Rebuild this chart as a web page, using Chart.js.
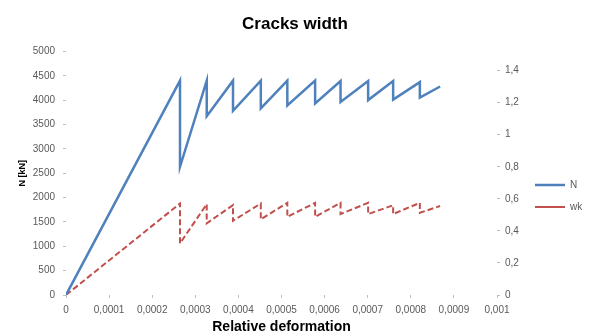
<!DOCTYPE html>
<html>
<head>
<meta charset="utf-8">
<script src="https://cdn.jsdelivr.net/npm/chart.js@4.4.1/dist/chart.umd.min.js"></script>
<style>
  html, body { margin: 0; padding: 0; background: #ffffff; }
  #wrap { width: 590px; height: 336px; }
</style>
</head>
<body>
<div id="wrap"><canvas id="c" width="590" height="336"></canvas></div>
<script>
// Relative deformation (x) at the sampled points
const strain = [0, 0.0002645, 0.0002645, 0.0003265, 0.0003265, 0.0003875, 0.0003875,
  0.000452, 0.000452, 0.0005135, 0.0005135, 0.000578, 0.000578, 0.000637, 0.000637,
  0.000701, 0.000701, 0.000759, 0.000759, 0.000821, 0.000821, 0.000868];
// N [kN] (left axis)
const forceN = [0, 4400, 2630, 4400, 3670, 4400, 3780, 4400, 3830, 4400, 3890, 4400,
  3930, 4390, 3960, 4390, 4000, 4390, 4010, 4370, 4050, 4280];
// wk (right axis)
const crackWk = [0, 0.571, 0.322, 0.567, 0.447, 0.561, 0.463, 0.571, 0.472, 0.575, 0.488,
  0.575, 0.488, 0.575, 0.505, 0.575, 0.505, 0.56, 0.505, 0.575, 0.513, 0.555];

const seriesNames = ['N', 'wk'];
const leftTicks = [0, 500, 1000, 1500, 2000, 2500, 3000, 3500, 4000, 4500, 5000];
const rightTicks = [0, 0.2, 0.4, 0.6, 0.8, 1, 1.2, 1.4];
const xTicks = [0, 0.0001, 0.0002, 0.0003, 0.0004, 0.0005, 0.0006, 0.0007, 0.0008, 0.0009, 0.001];

const fmt = v => String(Number(v.toFixed(6))).replace('.', ',');
const tickColor = '#595959';
const markColor = '#bfbfbf';
const FONT = "'Liberation Sans', Arial, sans-serif";

new Chart(document.getElementById('c'), {
  type: 'line',
  data: {
    datasets: [
      {
        label: seriesNames[0],
        data: strain.map((x, i) => ({ x: x, y: forceN[i] })),
        yAxisID: 'y',
        borderColor: '#4F81BD',
        backgroundColor: '#4F81BD',
        borderWidth: 2.5,
        pointRadius: 0,
        tension: 0,
        fill: false
      },
      {
        label: seriesNames[1],
        data: strain.map((x, i) => ({ x: x, y: crackWk[i] })),
        yAxisID: 'y2',
        borderColor: '#C0504D',
        backgroundColor: '#C0504D',
        borderWidth: 2,
        borderDash: [6, 3],
        pointRadius: 0,
        tension: 0,
        fill: false
      }
    ]
  },
  options: {
    responsive: false,
    animation: false,
    layout: { padding: { top: 0, bottom: 0, left: 0, right: 0 } },
    plugins: {
      title: {
        display: true,
        text: 'Cracks width',
        color: '#000000',
        font: { family: FONT, size: 17, weight: 'bold' },
        padding: { top: 14, bottom: 17 }
      },
      legend: {
        display: true,
        position: 'right',
        align: 'center',
        maxWidth: 67,
        title: { display: true, text: '', font: { size: 10 }, padding: 22 },
        labels: {
          usePointStyle: true,
          pointStyle: 'line',
          pointStyleWidth: 30,
          boxHeight: 10,
          padding: 12,
          color: tickColor,
          font: { family: FONT, size: 10 }
        }
      },
      tooltip: { enabled: false }
    },
    scales: {
      x: {
        type: 'linear',
        position: 'bottom',
        min: 0,
        max: 0.001,
        afterBuildTicks: s => { s.ticks = xTicks.map(v => ({ value: v })); },
        afterFit: s => { s.height = 41; },
        ticks: {
          color: tickColor,
          font: { family: FONT, size: 10 },
          padding: 6,
          maxRotation: 0,
          autoSkip: false,
          callback: v => fmt(v)
        },
        grid: { drawOnChartArea: false, drawTicks: true, tickLength: 3, color: markColor },
        border: { display: false },
        title: {
          display: true,
          text: 'Relative deformation',
          color: '#000000',
          font: { family: FONT, size: 14, weight: 'bold' },
          padding: { top: 0, bottom: 0 }
        }
      },
      y: {
        type: 'linear',
        position: 'left',
        min: 0,
        max: 5000,
        afterBuildTicks: s => { s.ticks = leftTicks.map(v => ({ value: v })); },
        afterFit: s => { s.width = 66; },
        ticks: {
          color: tickColor,
          font: { family: FONT, size: 10 },
          padding: 8,
          callback: v => fmt(v)
        },
        grid: { drawOnChartArea: false, drawTicks: true, tickLength: 3, color: markColor },
        border: { display: false },
        title: {
          display: true,
          text: 'N [kN]',
          color: '#000000',
          font: { family: FONT, size: 9, weight: 'bold' },
          padding: { top: 17, bottom: 0 }
        }
      },
      y2: {
        type: 'linear',
        position: 'right',
        min: 0,
        max: 1.52,
        afterBuildTicks: s => { s.ticks = rightTicks.map(v => ({ value: v })); },
        afterFit: s => { s.width = 26; },
        ticks: {
          color: tickColor,
          font: { family: FONT, size: 10 },
          padding: 5,
          callback: v => fmt(v)
        },
        grid: { drawOnChartArea: false, drawTicks: true, tickLength: 3, color: markColor },
        border: { display: false }
      }
    }
  }
});
</script>
</body>
</html>
